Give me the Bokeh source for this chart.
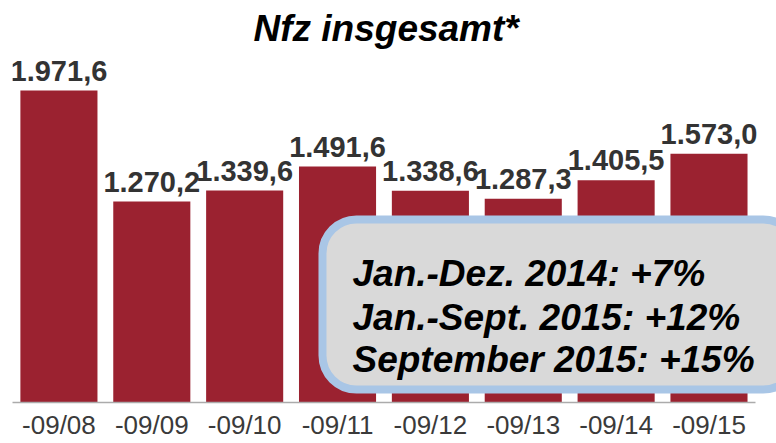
from bokeh.plotting import figure
from bokeh.models import Range1d, LinearAxis, FixedTicker, BoxAnnotation, Label, ColumnDataSource
from bokeh.core.properties import value
from bokeh.embed import file_html
from bokeh.resources import INLINE

# ---- data ----
categories = ["-09/08", "-09/09", "-09/10", "-09/11", "-09/12", "-09/13", "-09/14", "-09/15"]
values = [1971.6, 1270.2, 1339.6, 1491.6, 1338.6, 1287.3, 1405.5, 1573.0]
title_text = "Nfz insgesamt*"
box_lines = ["Jan.-Dez. 2014: +7%", "Jan.-Sept. 2015: +12%", "September 2015: +15%"]

def de_fmt(v):
    s = f"{v:,.1f}"
    return s.replace(",", "X").replace(".", ",").replace("X", ".")

idx = list(range(len(categories)))
src = ColumnDataSource(dict(x=idx, top=values, label=[de_fmt(v) for v in values]))

FONT = "Liberation Sans"
BAR = "#9B2230"

p = figure(width=776, height=443, output_backend="svg", toolbar_location=None,
           x_range=Range1d(-0.5, len(categories) - 0.5 + 0.227),
           y_range=Range1d(0, 2206), x_axis_location=None, y_axis_location=None,
           min_border_left=12, min_border_right=0, min_border_top=0, min_border_bottom=41)
p.outline_line_color = None
p.grid.visible = False
p.background_fill_color = "white"

p.title.text = title_text
p.title.align = "left"
p.title.text_font = FONT
p.title.text_font_size = "37px"
p.title.text_font_style = "bold italic"
p.title.text_color = "black"
p.title.offset = 241

p.vbar(x="x", top="top", width=0.83, source=src, color=BAR, line_color=None)
p.text(x="x", y="top", text="label", source=src, y_offset=-20,
       text_align="center", text_baseline="alphabetic",
       text_font=value(FONT), text_font_size="29px", text_font_style="bold",
       text_color="#333333")

xaxis = LinearAxis(ticker=FixedTicker(ticks=idx),
                   major_label_overrides={i: c for i, c in zip(idx, categories)},
                   bounds=(-0.5, len(categories) - 0.5))
xaxis.axis_line_color = "#ABABAB"
xaxis.axis_line_width = 1.5
xaxis.major_tick_line_color = None
xaxis.major_tick_out = 0
xaxis.major_tick_in = 0
xaxis.minor_tick_line_color = None
xaxis.major_label_standoff = 7
xaxis.major_label_text_font = FONT
xaxis.major_label_text_font_size = "26px"
xaxis.major_label_text_line_height = 1.0
xaxis.major_label_text_color = "#3A3A3A"
p.add_layout(xaxis, "below")

box = BoxAnnotation(left=2.838, right=7.95, top=1157, bottom=82,
                    fill_color="#D9D9D9", fill_alpha=1.0,
                    line_color="#A9C6E6", line_width=8, line_alpha=1.0,
                    border_radius=34)
p.add_layout(box)

for txt, yy in zip(box_lines, [815, 537, 272]):
    p.add_layout(Label(x=3.161, y=yy, text=txt, text_font=FONT, text_font_size="37px",
                       text_font_style="bold italic", text_color="black",
                       text_baseline="alphabetic", text_align="left"))

open("out.html", "w").write(file_html(p, INLINE))
